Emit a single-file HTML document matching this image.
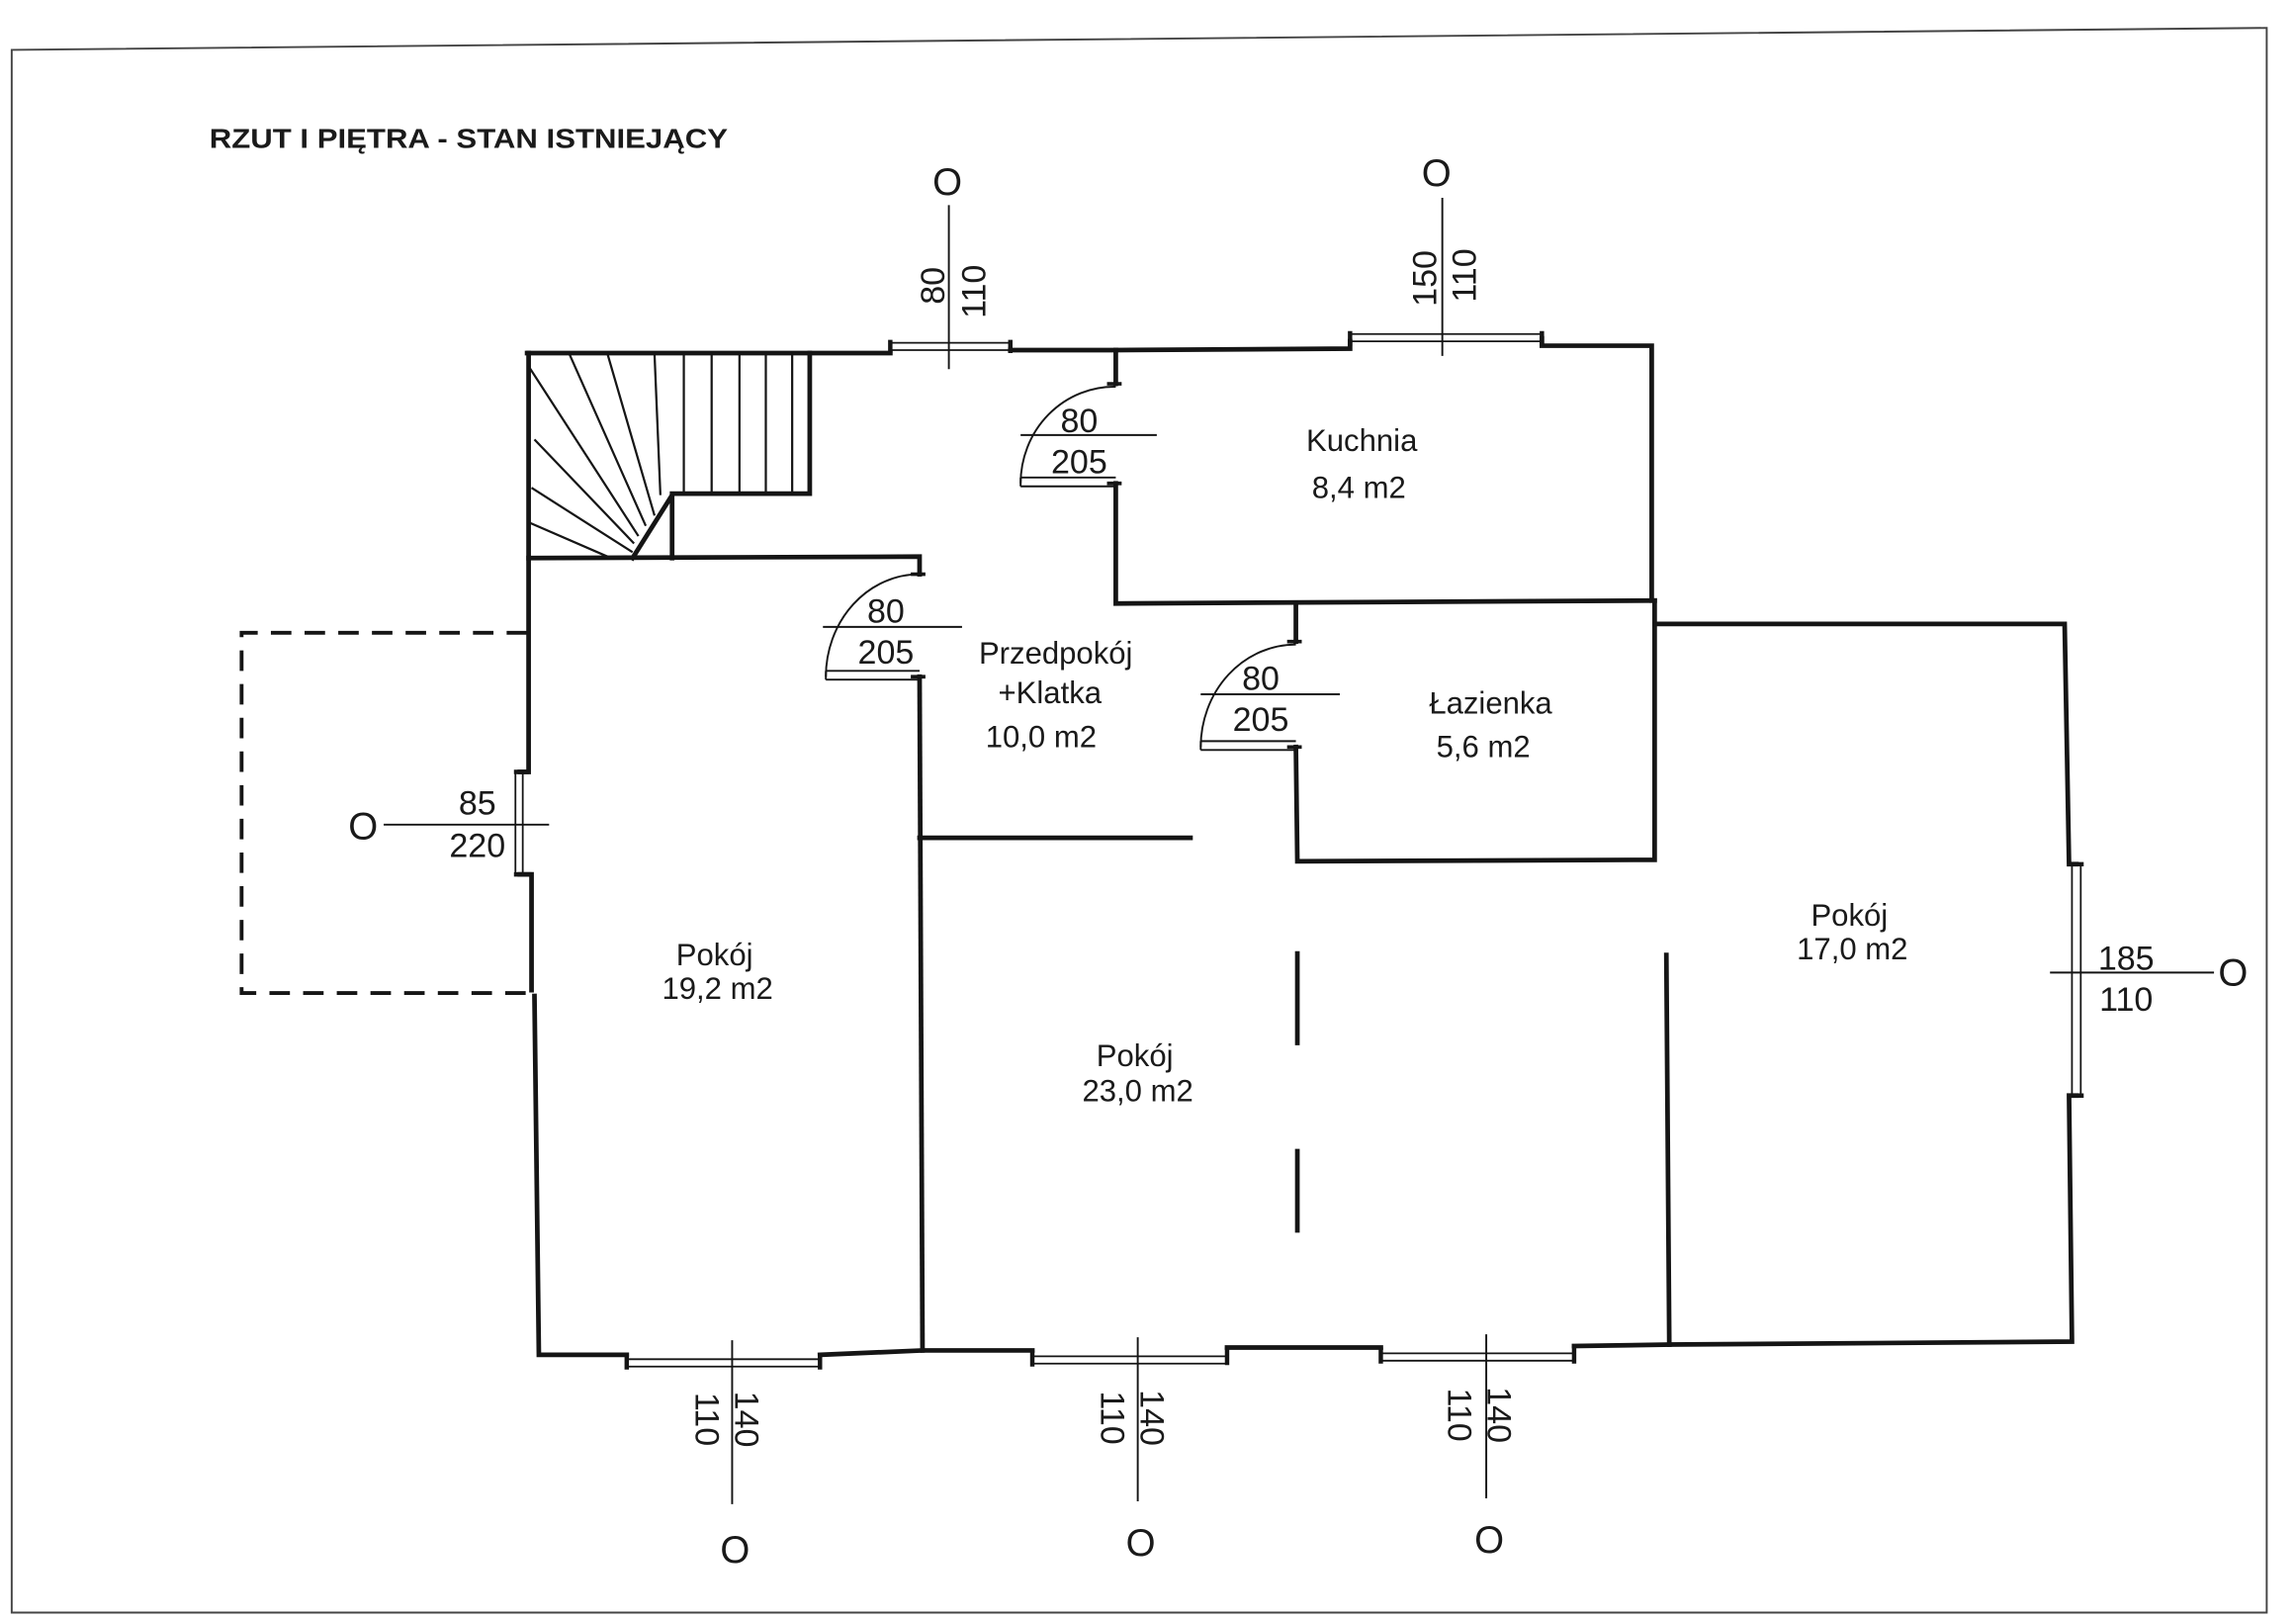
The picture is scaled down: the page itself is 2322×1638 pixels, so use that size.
<!DOCTYPE html>
<html><head><meta charset="utf-8"><style>
html,body{margin:0;padding:0;background:#fff;}
svg{display:block;}
text{font-family:"Liberation Sans",sans-serif;fill:#1a1a1a;}
</style></head><body>
<svg width="2322" height="1638" viewBox="0 0 1568 1106" xmlns="http://www.w3.org/2000/svg">
<rect width="1568" height="1106" fill="#fff"/>
<g stroke="#444" stroke-width="1.3" fill="none">
<path d="M8,34 L1548,19 L1548,1101 L8,1101 Z"/>
</g>
<text x="143" y="101" font-size="19" font-weight="bold" textLength="354" lengthAdjust="spacingAndGlyphs">RZUT I PIĘTRA - STAN ISTNIEJĄCY</text>

<g stroke="#151515" stroke-width="3.2" fill="none" stroke-linecap="square">
<path d="M360,241 L608,241"/>
<path d="M690,239 L762,239"/>
<path d="M762,239 L922,238 L922,233"/>
<path d="M1053,231 L1053,236 L1128,236 L1128,410"/>
<path d="M361,241 L361,527 L355,527"/>
<path d="M355,597 L363,597 L363,676"/>
<path d="M365,680 L368,925 L428,925"/>
<path d="M553,241 L553,337 L459,337 L459,381"/>
<path d="M432,381 L459,338"/>
<path d="M361,381 L628,380 L628,392"/>
<path d="M628,462 L630,922"/>
<path d="M628,572 L813,572"/>
<path d="M762,239 L762,262"/>
<path d="M762,330 L762,412 L1130,410"/>
<path d="M885,412 L885,438"/>
<path d="M885,510 L886,588 L1130,587 L1130,410"/>
<path d="M1130,426 L1410,426 L1413,590 L1418,590"/>
<path d="M1418,748 L1413,748 L1415,916 L1140,918 L1138,652"/>
<path d="M560,925 L630,922 L705,922"/>
<path d="M838,920 L943,920"/>
<path d="M1075,919 L1140,918"/>
<path d="M886,651 L886,712"/>
<path d="M886,786 L886,840"/>
</g>
<path d="M360,432 L165,432 L165,678 L368,678" stroke="#151515" stroke-width="2.6" fill="none" stroke-dasharray="14,9"/>
<g stroke="#151515" stroke-width="1.5" fill="none">
<path d="M467,242 L467,337 M486,242 L486,337 M505,242 L505,337 M523,242 L523,337 M541,242 L541,337"/>
<path d="M447,242 L451,338 M415,242 L447,352 M389,242 L441,359 M361,250 L436,366 M365,300 L433,371 M363,333 L432,377 M362,357 L415,380"/>
</g>
<g stroke="#151515" stroke-width="1.2" fill="none">
<path d="M608,234 L690,234 M608,239 L690,239"/>
<path d="M922,228 L1053,228 M922,233 L1053,233"/>
<path d="M428,928 L560,928 M428,933 L560,933"/>
<path d="M705,926 L838,926 M705,931 L838,931"/>
<path d="M943,924 L1075,924 M943,929 L1075,929"/>
<path d="M352,527 L352,597 M357,527 L357,597"/>
<path d="M1415,590 L1415,748 M1421,590 L1421,748"/>
</g>
<g stroke="#151515" stroke-width="3" fill="none">
<path d="M608,232 L608,241 M690,232 L690,241 M922,226 L922,236 M1053,226 L1053,236"/>
<path d="M428,925 L428,935 M560,925 L560,935 M705,922 L705,933 M838,920 L838,932 M943,920 L943,931 M1075,919 L1075,931"/>
<path d="M351,527 L361,527 M351,597 L363,597 M1413,590 L1423,590 M1413,748 L1423,748"/>
</g>
<g stroke="#151515" stroke-width="1.3">
<path d="M648,140 L648,252"/>
<path d="M985,135 L985,243"/>
<path d="M500,915 L500,1027"/>
<path d="M777,913 L777,1025"/>
<path d="M1015,911 L1015,1023"/>
<path d="M262,563 L375,563"/>
<path d="M1400,664 L1512,664"/>
</g>
<g font-size="23" text-anchor="middle">
<text transform="translate(645,195) rotate(-90)">80</text>
<text transform="translate(673,199) rotate(-90)">110</text>
<text transform="translate(981,190) rotate(-90)">150</text>
<text transform="translate(1008,188) rotate(-90)">110</text>
<text transform="translate(475,969) rotate(90)">110</text>
<text transform="translate(502,969) rotate(90)">140</text>
<text transform="translate(752,968) rotate(90)">110</text>
<text transform="translate(779,968) rotate(90)">140</text>
<text transform="translate(989,966) rotate(90)">110</text>
<text transform="translate(1016,966) rotate(90)">140</text>
<text x="326" y="556">85</text>
<text x="326" y="585">220</text>
<text x="1452" y="662">185</text>
<text x="1452" y="690">110</text>
</g>
<g font-size="26" text-anchor="middle" style="fill:#3d5a4c">
<text x="647" y="133">O</text>
<text x="981" y="127">O</text>
<text x="502" y="1067">O</text>
<text x="779" y="1062">O</text>
<text x="1017" y="1060">O</text>
<text x="248" y="573">O</text>
<text x="1525" y="673">O</text>
</g>
<g stroke="#151515" fill="none">
<g stroke-width="1.3">
<path d="M697,330 A64,66 0 0 1 762,264"/>
<path d="M697,326 L762,326 M697,332 L762,332 M697,326 L697,332"/>
<path d="M697,297 L790,297"/>
<path d="M564,462 A64,70 0 0 1 628,392"/>
<path d="M564,458 L628,458 M564,464 L628,464 M564,458 L564,464"/>
<path d="M562,428 L657,428"/>
<path d="M820,510 A65,70 0 0 1 885,440"/>
<path d="M820,506 L885,506 M820,512 L885,512 M820,506 L820,512"/>
<path d="M820,474 L915,474"/>
</g>
<g stroke-width="2.5">
<path d="M756,262 L766,262 M756,330 L766,330 M622,392 L632,392 M622,462 L632,462 M879,438 L889,438 M879,510 L889,510"/>
</g>
</g>
<g font-size="23" text-anchor="middle">
<text x="737" y="295">80</text>
<text x="737" y="323">205</text>
<text x="605" y="425">80</text>
<text x="605" y="453">205</text>
<text x="861" y="471">80</text>
<text x="861" y="499">205</text>
</g>
<g font-size="21" text-anchor="middle">
<text x="930" y="308">Kuchnia</text>
<text x="928" y="340">8,4 m2</text>
<text x="721" y="453">Przedpokój</text>
<text x="717" y="480">+Klatka</text>
<text x="711" y="510">10,0 m2</text>
<text x="1018" y="487">Łazienka</text>
<text x="1013" y="517">5,6 m2</text>
<text x="488" y="659">Pokój</text>
<text x="490" y="682">19,2 m2</text>
<text x="775" y="728">Pokój</text>
<text x="777" y="752">23,0 m2</text>
<text x="1263" y="632">Pokój</text>
<text x="1265" y="655">17,0 m2</text>
</g>
</svg>
</body></html>
